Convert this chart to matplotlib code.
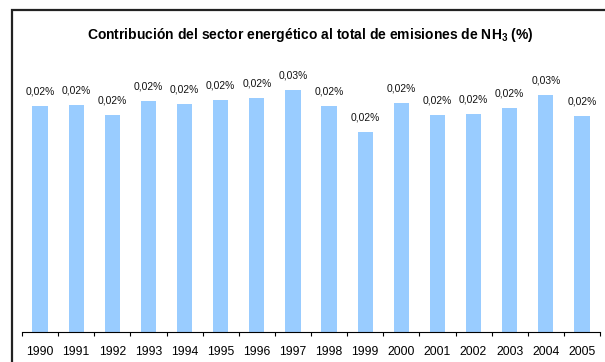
import matplotlib.pyplot as plt
from matplotlib.patches import Rectangle

years = ["1990", "1991", "1992", "1993", "1994", "1995", "1996", "1997",
         "1998", "1999", "2000", "2001", "2002", "2003", "2004", "2005"]
share = [0.02404, 0.02415, 0.02309, 0.02457, 0.02426, 0.02468, 0.02489, 0.02574,
         0.02404, 0.02128, 0.02436, 0.02309, 0.02319, 0.02383, 0.02521, 0.02298]

plt.rcParams['font.family'] = ['Liberation Sans', 'DejaVu Sans']
plt.rcParams['mathtext.default'] = 'regular'

fig = plt.figure(figsize=(6.05, 3.62), dpi=100)
W, H = 605, 362

# outer chart border (only top and left edges fall inside the image)
fig.patches.append(Rectangle((12 / W, -0.2), 1.2, 1 - 10 / H + 0.2,
                             transform=fig.transFigure, fill=False,
                             edgecolor='#222222', linewidth=1.6))

ax = fig.add_axes([22 / W, (H - 332) / H, (600 - 22) / W, (332 - 49.5) / H])
x = range(len(years))
ax.bar(x, share, width=0.42, color='#99CCFF', edgecolor='none')
ax.set_xlim(-0.5, len(years) - 0.5)
ax.set_ylim(0, 0.03)

for xi, v in zip(x, share):
    ax.annotate(("%.2f%%" % v).replace('.', ','), (xi, v), xytext=(0, 6.5),
                textcoords='offset points', ha='center', va='bottom',
                fontsize=7.4, color='#111111')

ax.set_xticks([i - 0.5 for i in range(len(years) + 1)], minor=False)
ax.set_xticklabels([])
ax.set_xticks(list(x), minor=True)
ax.set_xticklabels(years, minor=True, fontsize=8.8)
ax.tick_params(axis='x', which='major', direction='out', length=3, width=0.8)
ax.tick_params(axis='x', which='minor', length=0, pad=10.0)
ax.set_yticks([])
for side in ['top', 'right', 'left']:
    ax.spines[side].set_visible(False)
ax.spines['bottom'].set_linewidth(0.8)

fig.text(310 / W, 1 - 34.5 / H, "Contribución del sector energético al total de emisiones de NH$_3$ (%)",
         ha='center', va='center', fontsize=10, fontweight='bold')

fig.savefig('out.png', dpi=100)
